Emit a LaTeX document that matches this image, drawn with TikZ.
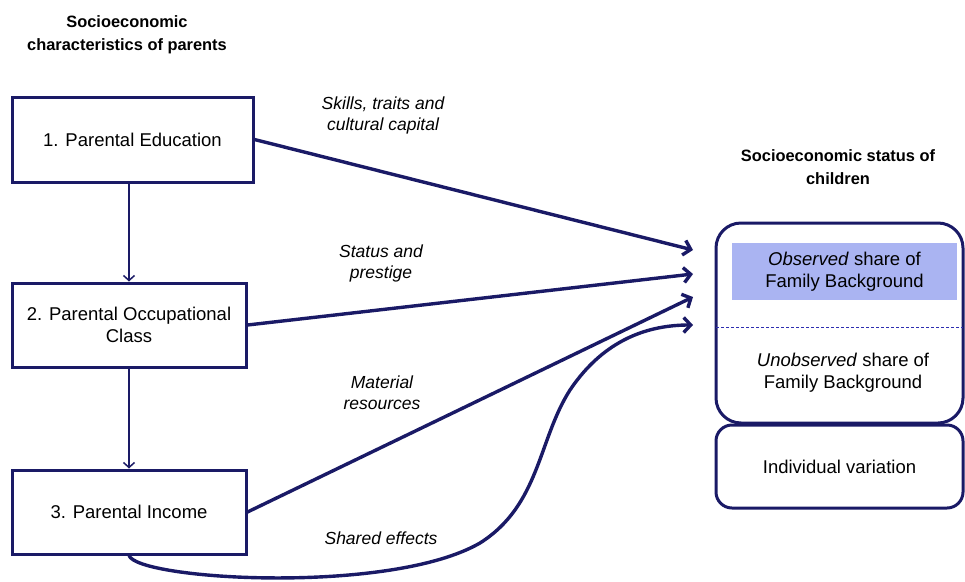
\documentclass[tikz,border=0pt]{standalone}
\usepackage{fontspec}
\setmainfont{Liberation Sans}
\usetikzlibrary{arrows.meta}

\definecolor{NV}{HTML}{1A1A66}
\definecolor{LB}{HTML}{AAB4F2}
\definecolor{DB}{HTML}{2E2EB0}

\begin{document}
\begin{tikzpicture}[x=1pt, y=-1pt,
    pbox/.style={draw=NV, line width=3pt, align=center, font=\fontsize{18.5}{22}\selectfont, minimum width=234pt, minimum height=84pt, inner sep=0pt},
    cbox/.style={draw=NV, line width=3pt, rounded corners=25pt, minimum width=247pt, inner sep=0pt, font=\fontsize{18.5}{22}\selectfont},
    txt/.style={align=center, font=\fontsize{18.5}{22}\selectfont},
    lbl/.style={align=center, font=\fontsize{17.5}{21}\selectfont\itshape},
    ttl/.style={align=center, font=\fontsize{16.4}{23}\selectfont\bfseries},
    link/.style={draw=NV, line width=3.4pt, -{Straight Barb[length=7pt, width=15pt]}},
    down/.style={draw=NV, line width=1.5pt, -{Straight Barb[length=5pt, width=11pt]}}]
    \useasboundingbox (0,0) rectangle (965,581);
    % parents
    \node[ttl] (pt) at (127,35) {Socioeconomic\\characteristics of parents};
    \node[pbox, minimum width=241pt, minimum height=85pt] (b1) at (132.5,139.5) {1. Parental Education};
    \node[pbox] (b2) at (129,325) {2. Parental Occupational\\Class};
    \node[pbox] (b3) at (129,512) {3. Parental Income};
    % children
    \node[ttl] (ct) at (838,167) {Socioeconomic status of\\children};
    \node[cbox, minimum height=200pt] (fb) at (839.5,323) {};
    \node[cbox, rounded corners=16pt, minimum height=83pt] (iv) at (839.5,466.5) {Individual variation};
    \node[txt, fill=LB, minimum width=225pt, minimum height=57pt] (obs) at (844.5,271.5) {\textit{Observed} share of\\Family Background};
    \node[txt] (unobs) at (843,373) {\textit{Unobserved} share of\\Family Background};
    \coordinate (dl) at (716,327);
    \coordinate (dr) at (963,327);
    \draw[DB, line width=1pt, dash pattern=on 3pt off 2pt] (dl) -- (dr);
    % labels
    \node[lbl] (l1) at (383,115) {Skills, traits and\\cultural capital};
    \node[lbl] (l2) at (381,263) {Status and\\prestige};
    \node[lbl] (l3) at (382,393) {Material\\resources};
    \node[lbl] (l4) at (381,538) {Shared effects};
    % arrows
    \coordinate (e1) at (693,250);
    \coordinate (e2) at (693,274);
    \coordinate (e3) at (693,297);
    \coordinate (e4) at (693,325);
    \draw[down] (b1.south -| b2.north) -- (b2.north);
    \draw[down] (b2) -- (b3);
    \draw[link] (b1.east) -- (e1);
    \draw[link] (b2.east) -- (e2);
    \draw[link] (b3.east) -- (e3);
    \draw[link] (b3.south) .. controls (138,580) and (390,595) .. (480,543)
        .. controls (540,505) and (538,440) .. (570,390)
        .. controls (605,338) and (650,325) .. (e4);
\end{tikzpicture}
\end{document}
